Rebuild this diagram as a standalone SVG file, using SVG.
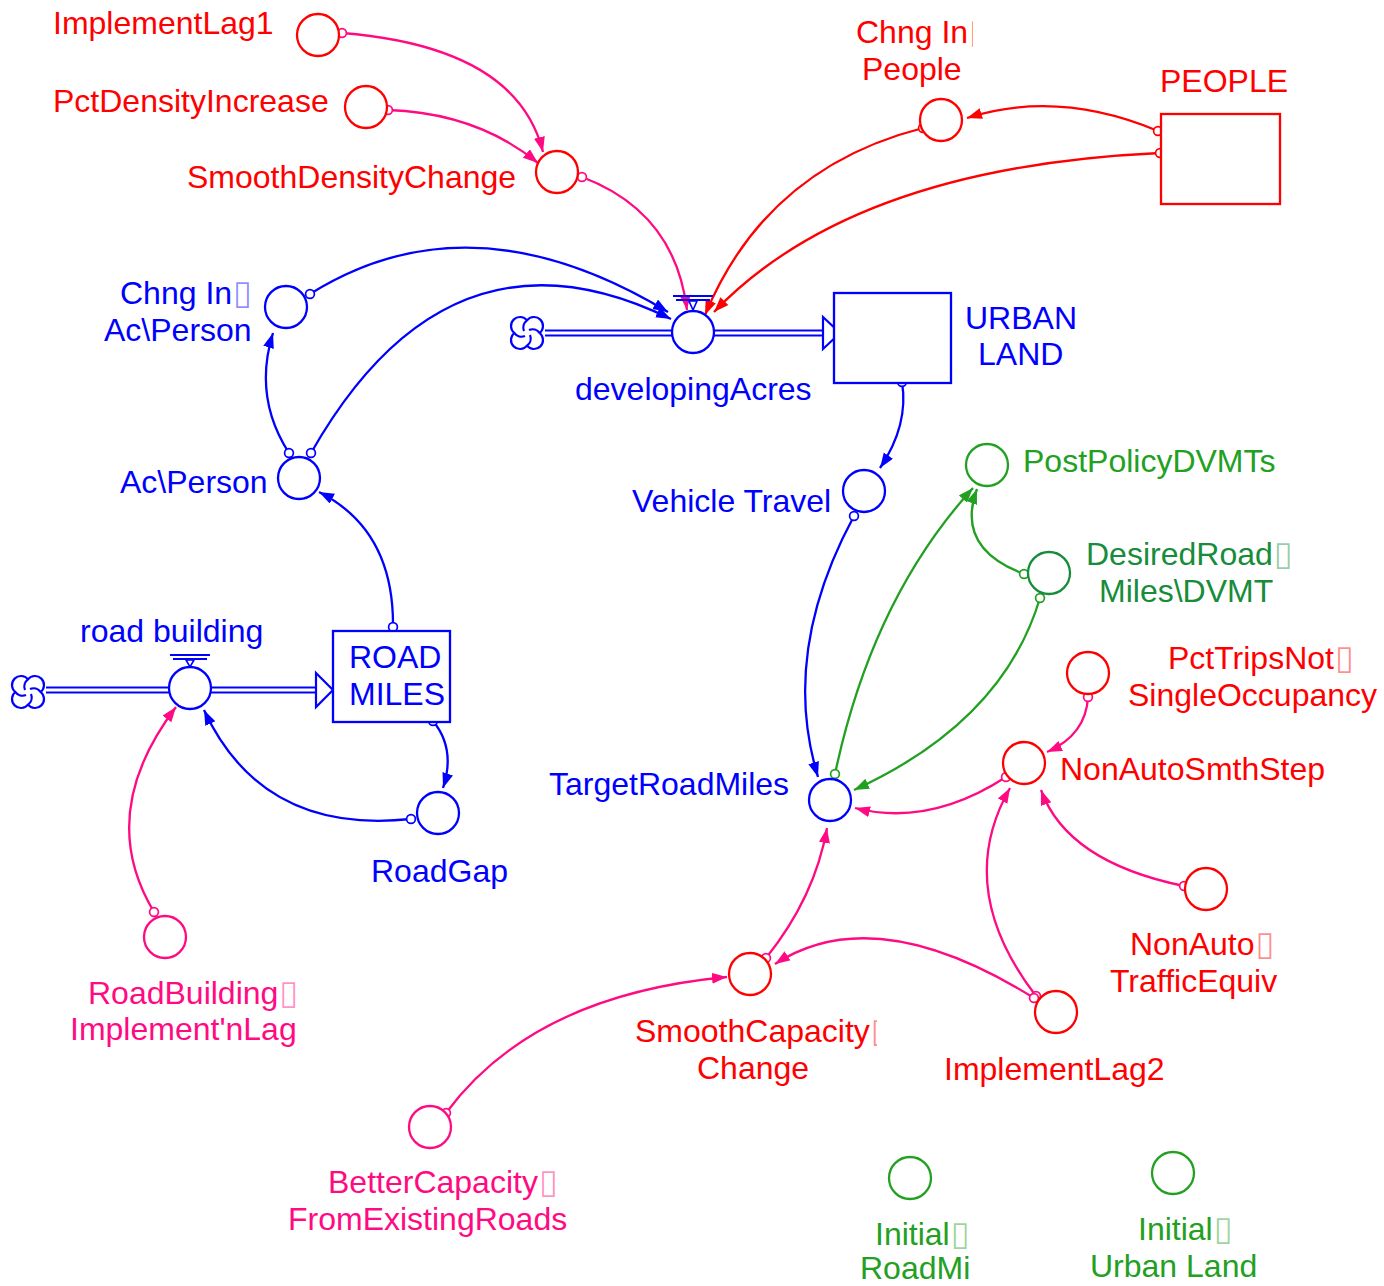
<svg xmlns="http://www.w3.org/2000/svg" width="1384" height="1286" viewBox="0 0 1384 1286">
<style>
text{font-family:"Liberation Sans",Arial,sans-serif;font-size:32px}
.t{font-family:"DejaVu Sans",sans-serif;font-size:34px;fill-opacity:0.45}
.bl{fill:#0000FF}.rd{fill:#FF0000}.pk{fill:#FF0A82}.gr{fill:#22A022}.dg{fill:#178C3A}
circle.n{fill:#fff;stroke-width:2.3}
.sb{stroke:#0000FF}.sr{stroke:#FF0000}.sp{stroke:#FF0A82}.sg{stroke:#22A022}.sd{stroke:#178C3A}
#connectors path{fill:none;stroke-width:2.3}
.box{fill:#fff;stroke-width:2.3}
.pipe{stroke:#0000FF;stroke-width:2.2;fill:none}
</style>
<defs>
<marker id="ab" markerUnits="userSpaceOnUse" markerWidth="16" markerHeight="12" refX="15" refY="5.5" orient="auto"><path d="M0,0 L15,5.5 L0,11 z" fill="#0000FF"/></marker>
<marker id="ar" markerUnits="userSpaceOnUse" markerWidth="16" markerHeight="12" refX="15" refY="5.5" orient="auto"><path d="M0,0 L15,5.5 L0,11 z" fill="#FF0000"/></marker>
<marker id="ap" markerUnits="userSpaceOnUse" markerWidth="16" markerHeight="12" refX="15" refY="5.5" orient="auto"><path d="M0,0 L15,5.5 L0,11 z" fill="#FF0A82"/></marker>
<marker id="ag" markerUnits="userSpaceOnUse" markerWidth="16" markerHeight="12" refX="15" refY="5.5" orient="auto"><path d="M0,0 L15,5.5 L0,11 z" fill="#22A022"/></marker>
<marker id="db" markerUnits="userSpaceOnUse" markerWidth="12" markerHeight="12" refX="6" refY="6"><circle cx="6" cy="6" r="4.4" fill="#fff" stroke="#0000FF" stroke-width="1.7"/></marker>
<marker id="dr" markerUnits="userSpaceOnUse" markerWidth="12" markerHeight="12" refX="6" refY="6"><circle cx="6" cy="6" r="4.4" fill="#fff" stroke="#FF0000" stroke-width="1.7"/></marker>
<marker id="dp" markerUnits="userSpaceOnUse" markerWidth="12" markerHeight="12" refX="6" refY="6"><circle cx="6" cy="6" r="4.4" fill="#fff" stroke="#FF0A82" stroke-width="1.7"/></marker>
<marker id="dg" markerUnits="userSpaceOnUse" markerWidth="12" markerHeight="12" refX="6" refY="6"><circle cx="6" cy="6" r="4.4" fill="#fff" stroke="#22A022" stroke-width="1.7"/></marker>
<clipPath id="clipChng"><rect x="800" y="0" width="173" height="60"/></clipPath>
<clipPath id="clipSmooth"><rect x="600" y="1000" width="277" height="60"/></clipPath>
<path id="cloud" d="M0,-12.66 A9,9 0 1,1 12.66,0 A9,9 0 1,1 0,12.66 A9,9 0 1,1 -12.66,0 A9,9 0 1,1 0,-12.66 Z M0,-12.66 A9,9 0 0,0 -3,-2 M12.66,0 A9,9 0 0,0 2,-3 M0,12.66 A9,9 0 0,0 3,2 M-12.66,0 A9,9 0 0,0 -2,3" fill="#fff" stroke="#0000FF" stroke-width="2.2"/>
</defs>
<rect width="1384" height="1286" fill="#fff"/>

<g id="connectors">
<path class="sp" marker-start="url(#dp)" marker-end="url(#ap)" d="M342,33 Q517,47 543,152"/>
<path class="sp" marker-start="url(#dp)" marker-end="url(#ap)" d="M388,110 Q477,113 538,163"/>
<path class="sp" marker-start="url(#dp)" marker-end="url(#ap)" d="M582,177 Q675,212 687,310"/>
<path class="sr" marker-start="url(#dr)" marker-end="url(#ar)" d="M1158,131 Q1058,89 967,118"/>
<path class="sr" marker-start="url(#dr)" marker-end="url(#ar)" d="M1160,153 Q853,167 714,312"/>
<path class="sr" marker-start="url(#dr)" marker-end="url(#ar)" d="M923,128 Q766,168 705,315"/>
<path class="sb" marker-start="url(#db)" marker-end="url(#ab)" d="M310,294 Q471,193 668,312"/>
<path class="sb" marker-start="url(#db)" marker-end="url(#ab)" d="M311,453 Q449,210 671,319"/>
<path class="sb" marker-start="url(#db)" marker-end="url(#ab)" d="M289,453 Q253,397 273,333"/>
<path class="sb" marker-start="url(#db)" marker-end="url(#ab)" d="M393,627 Q394,530 319,492"/>
<path class="sb" marker-start="url(#db)" marker-end="url(#ab)" d="M433,721 Q456,749 443,788"/>
<path class="sb" marker-start="url(#db)" marker-end="url(#ab)" d="M411,819 Q262,835 204,710"/>
<path class="sp" marker-start="url(#dp)" marker-end="url(#ap)" d="M154,912 Q95,814 176,707"/>
<path class="sb" marker-start="url(#db)" marker-end="url(#ab)" d="M902,382 Q909,425 880,468"/>
<path class="sb" marker-start="url(#db)" marker-end="url(#ab)" d="M854,516 Q780,653 818,777"/>
<path class="sg" marker-start="url(#dg)" marker-end="url(#ag)" d="M835,774 Q872,599 973,488"/>
<path class="sg" marker-start="url(#dg)" marker-end="url(#ag)" d="M1024,574 Q955,548 977,489"/>
<path class="sg" marker-start="url(#dg)" marker-end="url(#ag)" d="M1040,598 Q1003,722 854,790"/>
<path class="sp" marker-start="url(#dp)" marker-end="url(#ap)" d="M1088,697 Q1086,735 1047,752"/>
<path class="sp" marker-start="url(#dp)" marker-end="url(#ap)" d="M1006,777 Q929,827 855,808"/>
<path class="sp" marker-start="url(#dp)" marker-end="url(#ap)" d="M1036,996 Q953,888 1010,788"/>
<path class="sp" marker-start="url(#dp)" marker-end="url(#ap)" d="M1184,886 Q1067,862 1041,790"/>
<path class="sp" marker-start="url(#dp)" marker-end="url(#ap)" d="M766,958 Q815,897 827,828"/>
<path class="sp" marker-start="url(#dp)" marker-end="url(#ap)" d="M1034,998 Q875,899 775,964"/>
<path class="sp" marker-start="url(#dp)" marker-end="url(#ap)" d="M446,1113 Q533,995 727,977"/>
</g>

<g id="flow-developingAcres">
<use href="#cloud" x="527" y="333"/>
<path class="pipe" d="M545,330.5 H672 M545,335.5 H672 M714,330.5 H823 M714,335.5 H823"/>
<path d="M823,317 L840,333 L823,349 Z" fill="#fff" stroke="#0000FF" stroke-width="2.2"/>
<path d="M673,296 H713 M676,300 H710" stroke="#0000FF" stroke-width="2.2" fill="none"/>
<path d="M689,301 L697,301 L693,310 Z" fill="none" stroke="#0000FF" stroke-width="1.6"/>
<circle class="n sb" cx="693" cy="332" r="21"/>
<text class="bl" x="575" y="400">developingAcres</text>
</g>

<g id="flow-roadBuilding">
<use href="#cloud" x="28" y="692"/>
<path class="pipe" d="M46,687.5 H169 M46,692.5 H169 M211,687.5 H316 M211,692.5 H316"/>
<path d="M316,673 L333,690 L316,707 Z" fill="#fff" stroke="#0000FF" stroke-width="2.2"/>
<path d="M170,655 H210 M173,659 H207" stroke="#0000FF" stroke-width="2.2" fill="none"/>
<path d="M186,660 L194,660 L190,667 Z" fill="none" stroke="#0000FF" stroke-width="1.6"/>
<circle class="n sb" cx="190" cy="688" r="21"/>
<text class="bl" x="80" y="642">road building</text>
</g>

<g id="URBAN_LAND">
<rect class="box sb" x="834" y="293" width="117" height="90"/>
<text class="bl" x="965" y="329">URBAN</text>
<text class="bl" x="978" y="365">LAND</text>
</g>
<g id="PEOPLE">
<rect class="box sr" x="1161" y="114" width="119" height="90"/>
<text class="rd" x="1160" y="92">PEOPLE</text>
</g>
<g id="ROAD_MILES">
<rect class="box sb" x="333" y="631" width="117" height="91"/>
<text class="bl" x="349" y="668">ROAD</text>
<text class="bl" x="349" y="705">MILES</text>
</g>

<g id="ImplementLag1"><circle class="n sr" cx="318" cy="35" r="21"/><text class="rd" x="53" y="34">ImplementLag1</text></g>
<g id="PctDensityIncrease"><circle class="n sr" cx="366" cy="107" r="21"/><text class="rd" x="53" y="112">PctDensityIncrease</text></g>
<g id="SmoothDensityChange"><circle class="n sr" cx="557" cy="172" r="21"/><text class="rd" x="187" y="188">SmoothDensityChange</text></g>
<g id="ChngInPeople"><circle class="n sr" cx="941" cy="120" r="21"/>
<text class="rd" x="856" y="43" clip-path="url(#clipChng)">Chng In<tspan class="t" dx="1">▯</tspan></text>
<text class="rd" x="862" y="80">People</text></g>
<g id="ChngInAcPerson"><circle class="n sb" cx="286" cy="307" r="21"/>
<text class="bl" x="120" y="304">Chng In<tspan class="t" dx="1">▯</tspan></text>
<text class="bl" x="104" y="341">Ac\Person</text></g>
<g id="AcPerson"><circle class="n sb" cx="299" cy="478" r="21"/><text class="bl" x="120" y="493">Ac\Person</text></g>
<g id="VehicleTravel"><circle class="n sb" cx="864" cy="491" r="21"/><text class="bl" x="632" y="512">Vehicle Travel</text></g>
<g id="TargetRoadMiles"><circle class="n sb" cx="830" cy="800" r="21"/><text class="bl" x="549" y="795">TargetRoadMiles</text></g>
<g id="RoadGap"><circle class="n sb" cx="438" cy="813" r="21"/><text class="bl" x="371" y="882">RoadGap</text></g>
<g id="PostPolicyDVMTs"><circle class="n sg" cx="987" cy="465" r="21"/><text class="gr" x="1023" y="472">PostPolicyDVMTs</text></g>
<g id="DesiredRoadMilesDVMT"><circle class="n sd" cx="1049" cy="573" r="21"/>
<text class="dg" x="1086" y="565">DesiredRoad<tspan class="t" dx="1">▯</tspan></text>
<text class="dg" x="1099" y="602">Miles\DVMT</text></g>
<g id="PctTripsNotSingleOccupancy"><circle class="n sr" cx="1088" cy="673" r="21"/>
<text class="rd" x="1168" y="669">PctTripsNot<tspan class="t" dx="1">▯</tspan></text>
<text class="rd" x="1128" y="706">SingleOccupancy</text></g>
<g id="NonAutoSmthStep"><circle class="n sr" cx="1024" cy="763" r="21"/><text class="rd" x="1060" y="780">NonAutoSmthStep</text></g>
<g id="NonAutoTrafficEquiv"><circle class="n sr" cx="1206" cy="889" r="21"/>
<text class="rd" x="1130" y="955">NonAuto<tspan class="t" dx="1">▯</tspan></text>
<text class="rd" x="1110" y="992">TrafficEquiv</text></g>
<g id="SmoothCapacityChange"><circle class="n sr" cx="750" cy="974" r="21"/>
<text class="rd" x="635" y="1042" clip-path="url(#clipSmooth)">SmoothCapacity<tspan class="t" dx="1">▯</tspan></text>
<text class="rd" x="697" y="1079">Change</text></g>
<g id="ImplementLag2"><circle class="n sr" cx="1056" cy="1012" r="21"/><text class="rd" x="944" y="1080">ImplementLag2</text></g>
<g id="RoadBuildingImplementnLag"><circle class="n sp" cx="165" cy="937" r="21"/>
<text class="pk" x="88" y="1004">RoadBuilding<tspan class="t" dx="1">▯</tspan></text>
<text class="pk" x="70" y="1040">Implement'nLag</text></g>
<g id="BetterCapacityFromExistingRoads"><circle class="n sp" cx="430" cy="1127" r="21"/>
<text class="pk" x="328" y="1193">BetterCapacity<tspan class="t" dx="1">▯</tspan></text>
<text class="pk" x="288" y="1230">FromExistingRoads</text></g>
<g id="InitialRoadMi"><circle class="n sg" cx="910" cy="1178" r="21"/>
<text class="gr" x="875" y="1245">Initial<tspan class="t" dx="1">▯</tspan></text>
<text class="gr" x="860" y="1279">RoadMi</text></g>
<g id="InitialUrbanLand"><circle class="n sg" cx="1173" cy="1173" r="21"/>
<text class="gr" x="1138" y="1240">Initial<tspan class="t" dx="1">▯</tspan></text>
<text class="gr" x="1090" y="1277">Urban Land</text></g>
</svg>
